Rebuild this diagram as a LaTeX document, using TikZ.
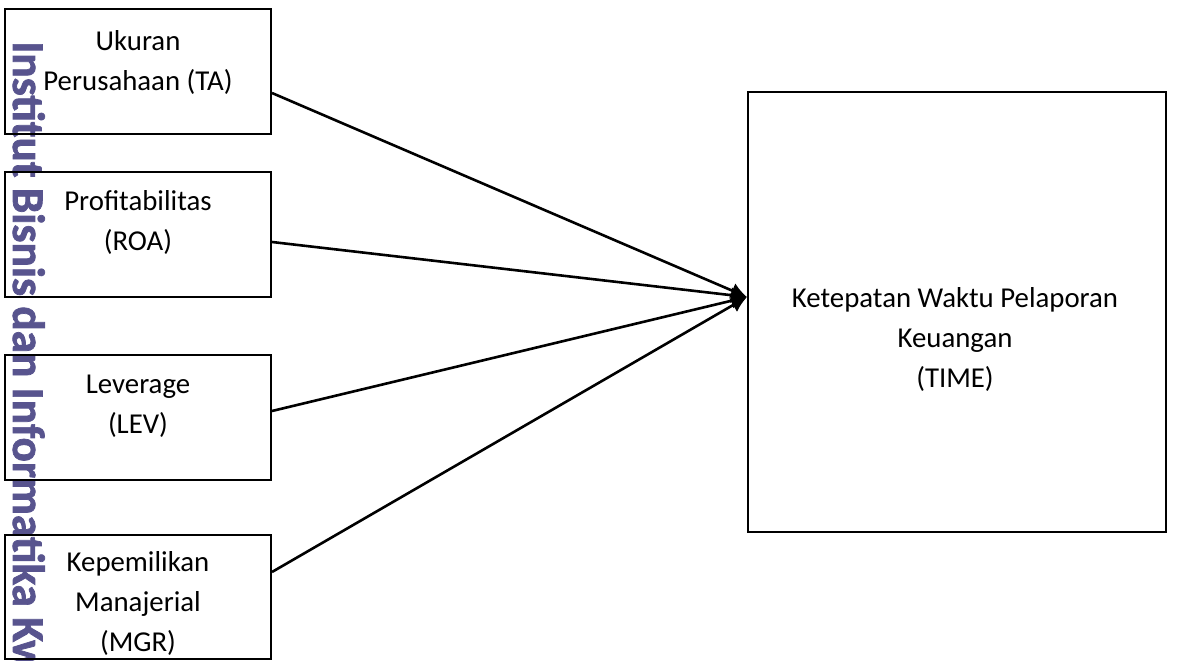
\documentclass[tikz,border=0pt]{standalone}
\usepackage{fontspec}
\setmainfont{Carlito}
\newfontfamily\markfont{Carlito}[FakeBold=1.6]
\usetikzlibrary{calc,arrows.meta}
\newlength\px
\setlength\px{0.75pt}
\definecolor{wmark}{RGB}{88,84,142}
\begin{document}
\begin{tikzpicture}[x=0.75pt,y=-0.75pt,
  varbox/.style={draw,line width=1.5pt,inner sep=0pt,minimum width=266\px,minimum height=125\px},
  label text/.style={align=center,inner sep=0pt,font=\fontsize{21.6pt}{30pt}\selectfont},
  link/.style={line width=1.95pt,-{Latex[length=12pt,width=12pt]}}]
\useasboundingbox (0,0) rectangle (1198,660);

% vertical institution mark along the left margin
\node[rotate=-90,anchor=base west,inner sep=0pt,text=wmark,
      font=\fontsize{34pt}{40pt}\markfont\bfseries] (wm) at (13,41)
      {Institut Bisnis dan Informatika Kw};

% independent variables
\node[varbox] (b1) at (138,71.5) {};
\node[varbox] (b2) at (138,234.5) {};
\node[varbox] (b3) at (138,417.5) {};
\node[varbox,minimum height=124\px] (b4) at (138,597) {};

% dependent variable
\node[draw,line width=1.5pt,inner sep=0pt,minimum width=418\px,minimum height=440\px] (t) at (957,312) {};

\node[label text] (l1) at (138,62) {\strut Ukuran\\\strut Perusahaan (TA)\strut};
\node[label text] (l2) at (138,222) {\strut Profitabilitas\\(ROA)\strut};
\node[label text] (l3) at (138,405.5) {\strut Leverage\\(LEV)\strut};
\node[label text] (l4) at (138,603) {\strut Kepemilikan\\Manajerial\\(MGR)\strut};
\node[label text] (lt) at (955,339) {\strut Ketepatan Waktu Pelaporan\\Keuangan\\(TIME)\strut};

\coordinate (tip) at ($(t.west)+(0,-15)$);

\draw[link] ($(b1.east)+(0,21.5)$) -- (tip);
\draw[link] ($(b2.east)+(0,7.5)$) -- (tip);
\draw[link] ($(b3.east)+(0,-6.5)$) -- (tip);
\draw[link] ($(b4.east)+(0,-25)$) -- (tip);
\end{tikzpicture}
\end{document}
